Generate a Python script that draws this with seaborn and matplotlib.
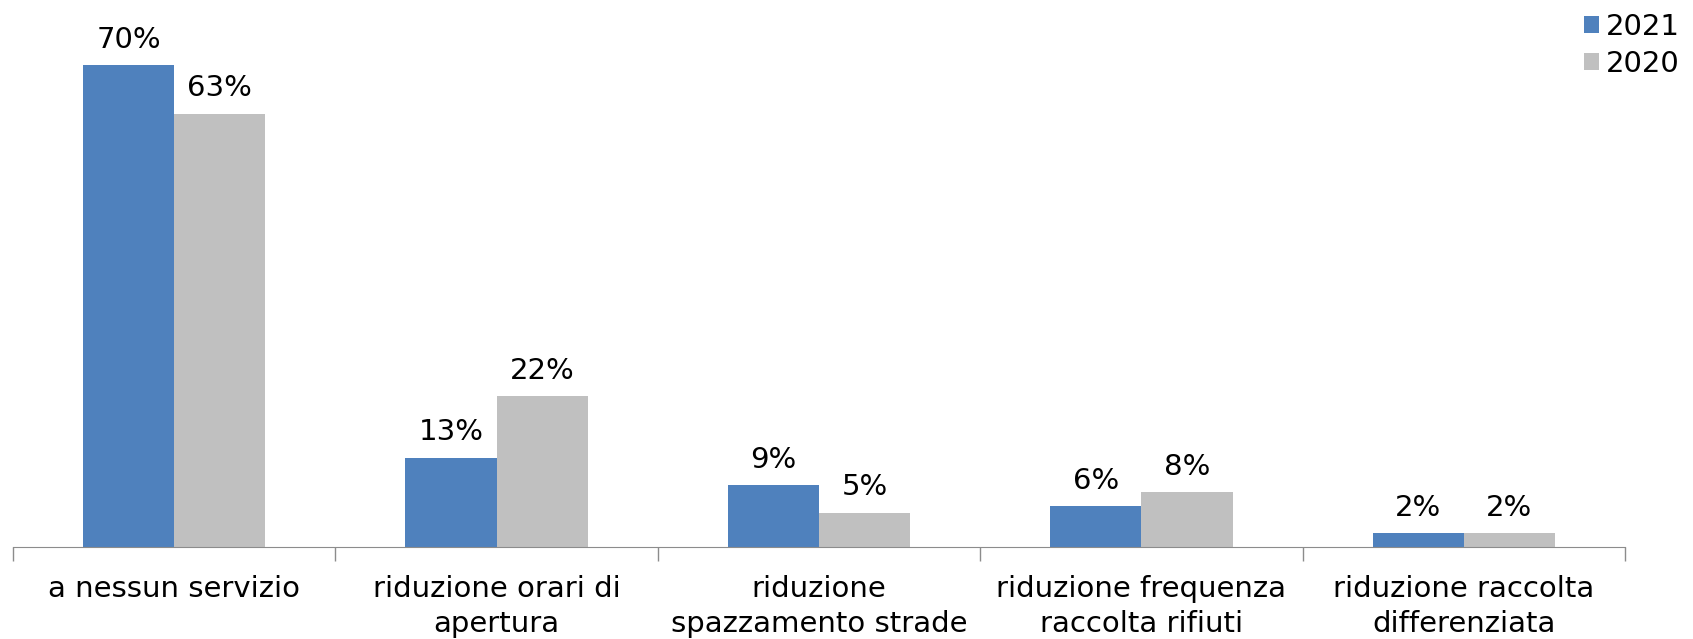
import seaborn as sns
import numpy as np
import matplotlib.pyplot as plt
import pandas as pd

# dati
categorie = ['a nessun servizio', 'riduzione orari di\napertura', 'riduzione\nspazzamento strade',
             'riduzione frequenza\nraccolta rifiuti', 'riduzione raccolta\ndifferenziata']
anni = ['2021', '2020']
val_2021 = [70, 13, 9, 6, 2]
val_2020 = [63, 22, 5, 8, 2]
colori = ['#4F81BD', '#C0C0C0']

df = pd.DataFrame({'categoria': categorie * 2,
                   'anno': [anni[0]] * 5 + [anni[1]] * 5,
                   'valore': val_2021 + val_2020})

sns.set_style('white')
plt.rcParams['font.family'] = ['DejaVu Sans']
plt.rcParams['text.color'] = 'black'
plt.rcParams['xtick.color'] = 'black'

fig = plt.figure(figsize=(16.93, 6.39), dpi=100)
ax = fig.add_axes([13 / 1693, 92 / 639, (1625 - 13) / 1693, 1 - 92 / 639])

sns.barplot(data=df, x='categoria', y='valore', hue='anno', palette=colori,
            width=0.566, gap=0, saturation=1, linewidth=0, ax=ax, legend=True)

for cont, vals in zip(ax.containers, [val_2021, val_2020]):
    ax.bar_label(cont, labels=[f'{v}%' for v in vals], padding=8, fontsize=21, color='black')

ax.set_ylim(0, 79.5)
ax.set_xlim(-0.5, 4.5)
ax.set_xlabel('')
ax.set_ylabel('')
ax.set_yticks([])
for s in ['top', 'right', 'left']:
    ax.spines[s].set_visible(False)
ax.spines['bottom'].set_color('#8C8C8C')

ax.set_xticks(range(5))
ax.set_xticklabels(categorie, fontsize=21, linespacing=1.35, color='black')
ax.tick_params(axis='x', which='major', length=0, pad=20)
ax.set_xticks(np.arange(-0.5, 5, 1), minor=True)
ax.tick_params(axis='x', which='minor', length=10, color='#8C8C8C', width=1, direction='out')
ax.xaxis.set_ticks_position('bottom')

leg = ax.legend(loc='upper right', bbox_to_anchor=(1.0, 1.0), bbox_transform=fig.transFigure,
                frameon=False, fontsize=21, handlelength=0.5, handleheight=0.5,
                handletextpad=0.25, labelspacing=0.3, borderaxespad=0.05)
for t in leg.get_texts():
    t.set_color('black')

fig.savefig('out.png', dpi=100)
